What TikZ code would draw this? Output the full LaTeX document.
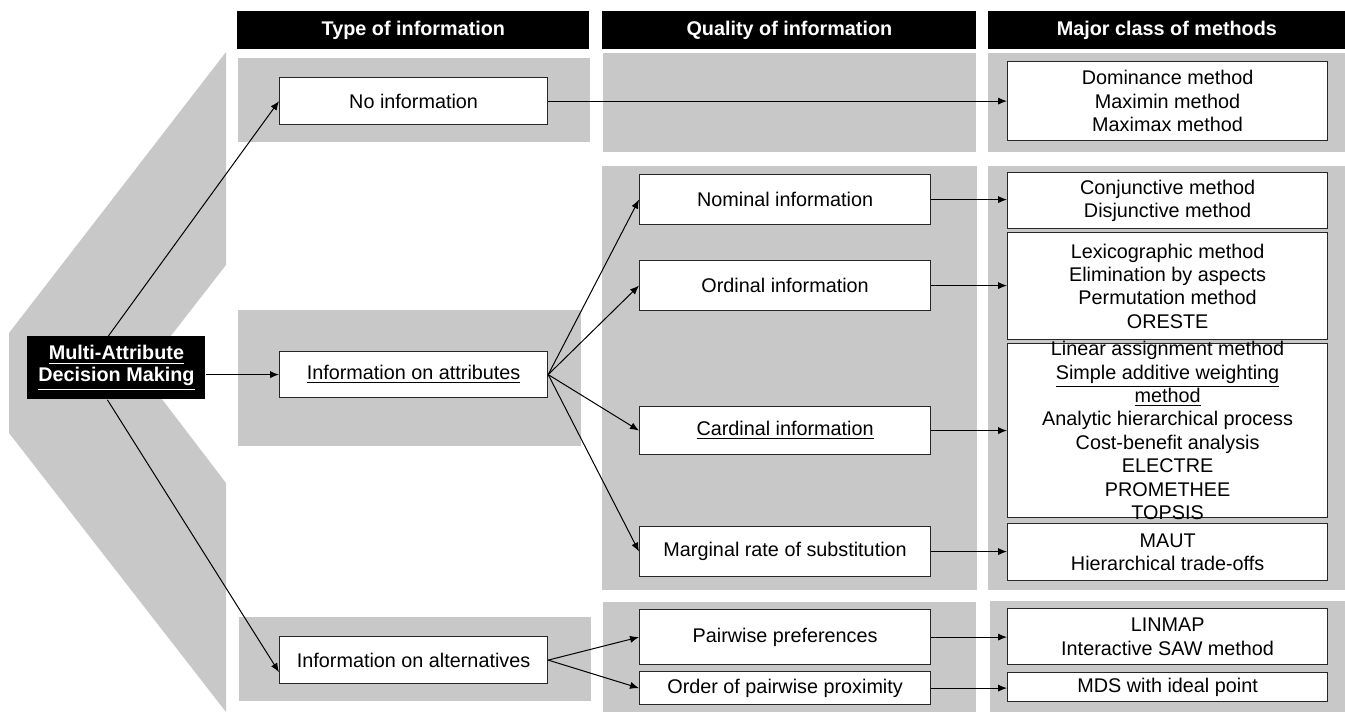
\documentclass[tikz,border=0pt]{standalone}
\usepackage{fontspec}
\setmainfont{Liberation Sans}
\usepackage{xcolor}
\usepackage{tikz}
\usetikzlibrary{arrows.meta}

\definecolor{panelgray}{RGB}{200,200,200}

\begin{document}
\begin{tikzpicture}[
    x=0.5pt, y=-0.5pt,
    panel/.style={
        fill=panelgray
    },
    header/.style={
        rectangle,
        fill=black,
        text=white,
        font=\fontsize{9.9}{11.7}\selectfont\bfseries,
        anchor=north west,
        minimum height=19pt,
        inner sep=0pt
    },
    madm/.style={
        rectangle,
        fill=black,
        text=white,
        align=center,
        font=\fontsize{9.9}{11}\selectfont\bfseries,
        anchor=north west,
        minimum width=89pt,
        minimum height=31.5pt,
        inner sep=0pt
    },
    infobox/.style={
        rectangle,
        draw=black!85,
        line width=0.6pt,
        fill=white,
        align=center,
        font=\fontsize{9.9}{11.7}\selectfont,
        anchor=north west,
        inner sep=0pt
    },
    info/.style={
        infobox,
        minimum width=134pt
    },
    quality/.style={
        infobox,
        minimum width=145.5pt
    },
    method/.style={
        infobox,
        minimum width=160pt
    },
    flow/.style={
        -{Latex[length=4.5pt,width=3.6pt]},
        line width=0.5pt
    }
]
\useasboundingbox (0,0) rectangle (1345,713);

% grey panels
\fill[panel] (238,58) rectangle (590,142);
\fill[panel] (238,310) rectangle (581,446);
\fill[panel] (239,617) rectangle (591,701);
\fill[panel] (603,53) rectangle (976,152);
\fill[panel] (602,166) rectangle (977,590);
\fill[panel] (603,602) rectangle (976,712);
\fill[panel] (988,53) rectangle (1345,152);
\fill[panel] (988,166) rectangle (1345,590);
\fill[panel] (990,601) rectangle (1345,712);

% chevron
\fill[panel] (226,52) -- (9,333) -- (9,433) -- (226,712) -- (226,483)
    -- (142,373) -- (226,265) -- cycle;

% headers
\node[header, minimum width=176pt] (hdtype) at (237,11) {Type of information};
\node[header, minimum width=187pt] (hdquality) at (602,11) {Quality of information};
\node[header, minimum width=178.5pt] (hdmethods) at (988,11) {Major class of methods};

% root
\node[madm] (madm) at (27,336) {\underline{Multi-Attribute}\\\underline{Decision Making}};

% type of information
\node[info, minimum height=23.5pt] (noinfo) at (279,77) {No information};
\node[info, minimum height=23pt] (attr) at (279,351) {\underline{Information on attributes}};
\node[info, minimum height=23.5pt] (alt) at (279,636) {Information on alternatives};

% quality of information
\node[quality, minimum height=25pt] (nominal) at (639,174) {Nominal information};
\node[quality, minimum height=25pt] (ordinal) at (639,260) {Ordinal information};
\node[quality, minimum height=24pt] (cardinal) at (639,406) {\underline{Cardinal information}};
\node[quality, minimum height=25pt] (marginal) at (639,526) {Marginal rate of substitution};
\node[quality, minimum height=27.5pt] (pairwise) at (639,609) {Pairwise preferences};
\node[quality, minimum height=16.5pt] (order) at (639,671) {Order of pairwise proximity};

% major class of methods
\node[method, minimum height=39.5pt] (dom) at (1007,61) {Dominance method\\Maximin method\\Maximax method};
\node[method, minimum height=28pt] (conj) at (1007,172) {Conjunctive method\\Disjunctive method};
\node[method, minimum height=53.5pt] (lex) at (1007,232) {Lexicographic method\\Elimination by aspects\\Permutation method\\ORESTE};
\node[method, minimum height=87pt] (linear) at (1007,343) {\parbox[c][87pt][c]{160pt}{\centering
    Linear assignment method\\
    \underline{Simple additive weighting}\\
    \underline{method}\\
    Analytic hierarchical process\\
    Cost-benefit analysis\\
    ELECTRE\\
    PROMETHEE\\
    TOPSIS}};
\node[method, minimum height=28.5pt] (maut) at (1007,523) {MAUT\\Hierarchical trade-offs};
\node[method, minimum height=28pt] (linmap) at (1007,608) {LINMAP\\Interactive SAW method};
\node[method, minimum height=14.5pt] (mds) at (1007,672) {MDS with ideal point};

% connectors
\draw[flow] ([xshift=-4pt]madm.north) -- (noinfo.west);
\draw[flow] (madm.east |- attr.west) -- (attr.west);
\draw[flow] ([xshift=-4.5pt]madm.south) -- ([yshift=-6pt]alt.west);

\draw[flow] (attr.east) -- (nominal.west);
\draw[flow] (attr.east) -- (ordinal.west);
\draw[flow] (attr.east) -- (cardinal.west);
\draw[flow] (attr.east) -- (marginal.west);
\draw[flow] (alt.east) -- (pairwise.west);
\draw[flow] (alt.east) -- (order.west);

\draw[flow] (noinfo.east) -- (dom.west |- noinfo.east);
\draw[flow] (nominal.east) -- (conj.west |- nominal.east);
\draw[flow] (ordinal.east) -- (lex.west |- ordinal.east);
\draw[flow] (cardinal.east) -- (linear.west |- cardinal.east);
\draw[flow] (marginal.east) -- (maut.west |- marginal.east);
\draw[flow] (pairwise.east) -- (linmap.west |- pairwise.east);
\draw[flow] (order.east) -- (mds.west |- order.east);

\end{tikzpicture}
\end{document}
